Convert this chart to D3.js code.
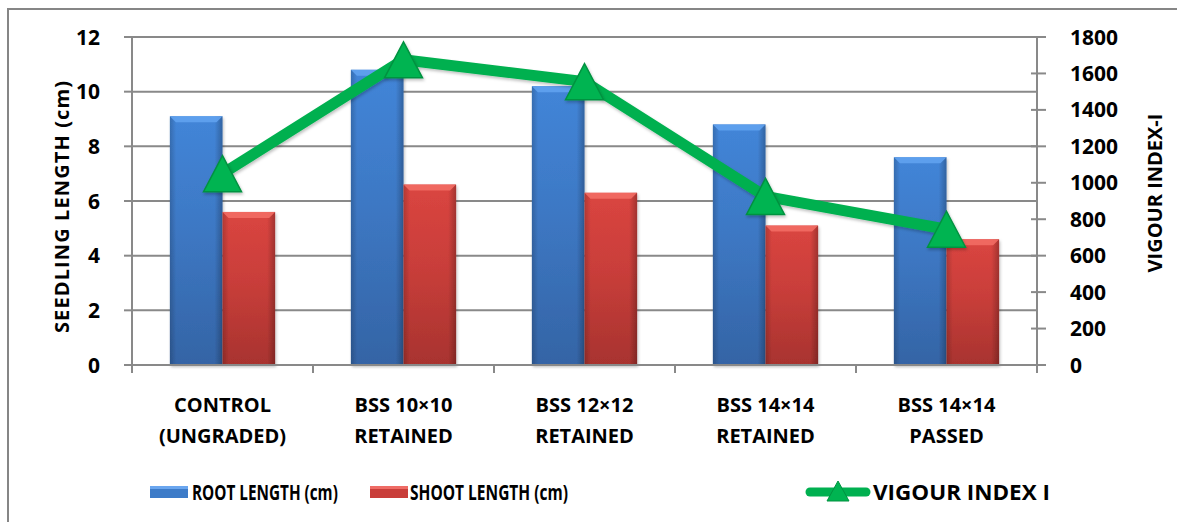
<!DOCTYPE html>
<html>
<head>
<meta charset="utf-8">
<script src="https://cdn.jsdelivr.net/npm/d3@7"></script>
<style>
    body { margin: 0; background: #fff; }
    svg text { font-family: "Open Sans", sans-serif; font-weight: 700; fill: #000; }
</style>
</head>
<body>
<div id="chart"></div>
<script>
// chart data
const categories = [
    ['CONTROL', '(UNGRADED)'],
    ['BSS 10\u00d710', 'RETAINED'],
    ['BSS 12\u00d712', 'RETAINED'],
    ['BSS 14\u00d714', 'RETAINED'],
    ['BSS 14\u00d714', 'PASSED']
];
const rootLength = [9.1, 10.8, 10.2, 8.8, 7.6];
const shootLength = [5.6, 6.6, 6.3, 5.1, 4.6];
const vigourIndex = [1050, 1675, 1555, 925, 745];
const leftTicks = [0, 2, 4, 6, 8, 10, 12];
const rightTicks = [0, 200, 400, 600, 800, 1000, 1200, 1400, 1600, 1800];
const seriesNames = ['ROOT LENGTH (cm)', 'SHOOT LENGTH (cm)', 'VIGOUR INDEX I'];

const width = 1177,
    height = 522,
    margin = {top: 37, right: 140, bottom: 157, left: 132};
const chartWidth = width - margin.left - margin.right,
    chartHeight = height - margin.top - margin.bottom;

const svg = d3.select('#chart').append('svg')
    .attr('width', width)
    .attr('height', height);

// gradients for the bevelled bars
const defs = svg.append('defs');
function barGradient(id, top, mid, bottom) {
    let grad = defs.append('linearGradient')
        .attr('id', id)
        .attr('x1', 0).attr('y1', 0).attr('x2', 0).attr('y2', 1);
    grad.append('stop').attr('offset', '0%').attr('stop-color', top);
    grad.append('stop').attr('offset', '45%').attr('stop-color', mid);
    grad.append('stop').attr('offset', '100%').attr('stop-color', bottom);
}
barGradient('gradRoot', '#4285d8', '#3d78c4', '#3464a5');
barGradient('gradShoot', '#da4540', '#c93e3a', '#a8332f');

const sideGrad = defs.append('linearGradient').attr('id', 'gradSide')
    .attr('x1', 0).attr('y1', 0).attr('x2', 1).attr('y2', 0);
sideGrad.append('stop').attr('offset', '0%').attr('stop-color', '#000').attr('stop-opacity', 0.18);
sideGrad.append('stop').attr('offset', '12%').attr('stop-color', '#000').attr('stop-opacity', 0);
sideGrad.append('stop').attr('offset', '85%').attr('stop-color', '#000').attr('stop-opacity', 0);
sideGrad.append('stop').attr('offset', '100%').attr('stop-color', '#000').attr('stop-opacity', 0.25);

defs.append('filter').attr('id', 'shadow')
    .attr('x', '-20%').attr('y', '-20%').attr('width', '140%').attr('height', '140%')
    .append('feDropShadow')
    .attr('dx', 1).attr('dy', 2).attr('stdDeviation', 1.5)
    .attr('flood-color', '#000').attr('flood-opacity', 0.25);

// outer frame (only left and top edges fall inside the picture)
svg.append('rect')
    .attr('x', 8).attr('y', 9)
    .attr('width', width + 20).attr('height', height + 20)
    .attr('fill', 'none')
    .attr('stroke', '#868686')
    .attr('stroke-width', 2);

const g = svg.append('g')
    .attr('transform', `translate(${margin.left}, ${margin.top})`);

const scaleX = d3.scaleBand().range([0, chartWidth]).domain(d3.range(categories.length));
const scaleBar = d3.scaleBand().range([0, scaleX.bandwidth()])
    .domain(['root', 'shoot']).paddingInner(0).paddingOuter(0.72);
const scaleY = d3.scaleLinear().domain([0, 12]).range([chartHeight, 0]);
const scaleY2 = d3.scaleLinear().domain([0, 1800]).range([chartHeight, 0]);

// gridlines
g.append('g')
    .selectAll('line')
    .data(leftTicks.slice(1))
    .enter()
    .append('line')
    .attr('x1', 0).attr('x2', chartWidth)
    .attr('y1', (d) => scaleY(d)).attr('y2', (d) => scaleY(d))
    .attr('stroke', '#898989')
    .attr('stroke-width', 2);

// bars
const barData = categories.map((c, i) => [
    {key: 'root', value: rootLength[i], fill: 'url(#gradRoot)', bevel: '#60a2f0'},
    {key: 'shoot', value: shootLength[i], fill: 'url(#gradShoot)', bevel: '#f26c64'}
]);

const groups = g.selectAll('g.group')
    .data(barData)
    .enter()
    .append('g')
    .attr('class', 'group')
    .attr('transform', (d, i) => `translate(${scaleX(i)},0)`);

const bars = groups.selectAll('g.bar')
    .data((d) => d)
    .enter()
    .append('g')
    .attr('class', 'bar')
    .attr('filter', 'url(#shadow)');

bars.append('rect')
    .attr('x', (d) => scaleBar(d.key))
    .attr('y', (d) => scaleY(d.value))
    .attr('width', scaleBar.bandwidth())
    .attr('height', (d) => chartHeight - scaleY(d.value))
    .attr('fill', (d) => d.fill);

bars.append('rect')
    .attr('x', (d) => scaleBar(d.key))
    .attr('y', (d) => scaleY(d.value))
    .attr('width', scaleBar.bandwidth())
    .attr('height', (d) => chartHeight - scaleY(d.value))
    .attr('fill', 'url(#gradSide)');

// bevel on top of each bar
bars.append('path')
    .attr('d', (d) => {
        let x0 = scaleBar(d.key), x1 = x0 + scaleBar.bandwidth(), y0 = scaleY(d.value), b = 6;
        return `M${x0},${y0}L${x1},${y0}L${x1 - b},${y0 + b}L${x0 + b},${y0 + b}Z`;
    })
    .attr('fill', (d) => d.bevel)
    .attr('opacity', 0.9);

// axes lines and ticks
const axisColor = '#898989';
g.append('line')
    .attr('x1', 0).attr('x2', 0).attr('y1', 0).attr('y2', chartHeight)
    .attr('stroke', axisColor).attr('stroke-width', 2);
g.append('line')
    .attr('x1', chartWidth).attr('x2', chartWidth).attr('y1', 0).attr('y2', chartHeight + 1)
    .attr('stroke', axisColor).attr('stroke-width', 2);
g.append('line')
    .attr('x1', -8).attr('x2', chartWidth + 8).attr('y1', chartHeight).attr('y2', chartHeight)
    .attr('stroke', axisColor).attr('stroke-width', 2);

g.append('g').selectAll('line')
    .data(leftTicks)
    .enter()
    .append('line')
    .attr('x1', -8).attr('x2', 0)
    .attr('y1', (d) => scaleY(d)).attr('y2', (d) => scaleY(d))
    .attr('stroke', axisColor).attr('stroke-width', 2);

g.append('g').selectAll('line')
    .data(rightTicks)
    .enter()
    .append('line')
    .attr('x1', chartWidth - 6).attr('x2', chartWidth + 9)
    .attr('y1', (d) => scaleY2(d)).attr('y2', (d) => scaleY2(d))
    .attr('stroke', axisColor).attr('stroke-width', 2);

g.append('g').selectAll('line')
    .data(d3.range(categories.length + 1))
    .enter()
    .append('line')
    .attr('x1', (d) => d * scaleX.step()).attr('x2', (d) => d * scaleX.step())
    .attr('y1', chartHeight).attr('y2', chartHeight + 8)
    .attr('stroke', axisColor).attr('stroke-width', 2);

// tick labels
g.append('g').selectAll('text')
    .data(leftTicks)
    .enter()
    .append('text')
    .attr('x', -32)
    .attr('y', (d) => scaleY(d))
    .attr('dy', '0.36em')
    .attr('text-anchor', 'end')
    .attr('font-size', 21)
    .text((d) => d);

g.append('g').selectAll('text')
    .data(rightTicks)
    .enter()
    .append('text')
    .attr('x', chartWidth + 33)
    .attr('y', (d) => scaleY2(d))
    .attr('dy', '0.36em')
    .attr('text-anchor', 'start')
    .attr('font-size', 21)
    .text((d) => d);

// category labels
const catLabels = g.append('g').selectAll('text')
    .data(categories)
    .enter()
    .append('text')
    .attr('text-anchor', 'middle')
    .attr('font-size', 20)
    .attr('transform', (d, i) => `translate(${scaleX(i) + scaleX.bandwidth() / 2}, ${chartHeight + 47})`);
catLabels.append('tspan').attr('x', 0).attr('y', 0).text((d) => d[0]);
catLabels.append('tspan').attr('x', 0).attr('y', 31).text((d) => d[1]);

// axis titles
svg.append('text')
    .attr('transform', `translate(69, 207) rotate(-90)`)
    .attr('text-anchor', 'middle')
    .attr('font-size', 20)
    .attr('textLength', 252).attr('lengthAdjust', 'spacing')
    .text('SEEDLING LENGTH (cm)');

svg.append('text')
    .attr('transform', `translate(1162, 193) rotate(-90)`)
    .attr('text-anchor', 'middle')
    .attr('font-size', 20)
    .text('VIGOUR INDEX-I');

// vigour index line
const line = d3.line()
    .x((d, i) => scaleX(i) + scaleX.bandwidth() / 2)
    .y((d) => scaleY2(d));

const triangle = 'M0,-18L19,18L-19,18Z';

g.append('path')
    .datum(vigourIndex)
    .attr('d', line)
    .attr('fill', 'none')
    .attr('stroke', '#00b050')
    .attr('stroke-width', 11)
    .attr('stroke-linejoin', 'round')
    .attr('filter', 'url(#shadow)');

g.append('g').selectAll('path')
    .data(vigourIndex)
    .enter()
    .append('path')
    .attr('d', triangle)
    .attr('transform', (d, i) => `translate(${scaleX(i) + scaleX.bandwidth() / 2}, ${scaleY2(d)})`)
    .attr('fill', '#00b451')
    .attr('stroke', '#009240')
    .attr('stroke-width', 1.5)
    .attr('filter', 'url(#shadow)');

// legend
const legend = svg.append('g').attr('transform', 'translate(0, 492)');

// squeeze a label horizontally to the width it has in the picture
function legendText(x, label, targetWidth) {
    let t = legend.append('text')
        .attr('y', 0).attr('dy', '0.36em')
        .attr('font-size', 21)
        .text(label);
    let natural = t.node().getComputedTextLength();
    t.attr('transform', `translate(${x}, 0) scale(${targetWidth / natural}, 1)`);
}

legend.append('rect')
    .attr('x', 150).attr('y', -6).attr('width', 38).attr('height', 12)
    .attr('fill', '#3d7bc8');
legend.append('rect')
    .attr('x', 150).attr('y', -6).attr('width', 38).attr('height', 3)
    .attr('fill', '#6aa6ef');
legendText(192, seriesNames[0], 146);

legend.append('rect')
    .attr('x', 370).attr('y', -6).attr('width', 38).attr('height', 12)
    .attr('fill', '#c93e3a');
legend.append('rect')
    .attr('x', 370).attr('y', -6).attr('width', 38).attr('height', 3)
    .attr('fill', '#ef6c66');
legendText(410, seriesNames[1], 158);

legend.append('line')
    .attr('x1', 810).attr('x2', 866).attr('y1', 0).attr('y2', 0)
    .attr('stroke', '#00b050').attr('stroke-width', 9).attr('stroke-linecap', 'round');
legend.append('path')
    .attr('d', 'M0,-11L11,9L-11,9Z')
    .attr('transform', 'translate(838, 0)')
    .attr('fill', '#00b451')
    .attr('stroke', '#009240')
    .attr('stroke-width', 1);
legendText(873, seriesNames[2], 177);
</script>
</body>
</html>
